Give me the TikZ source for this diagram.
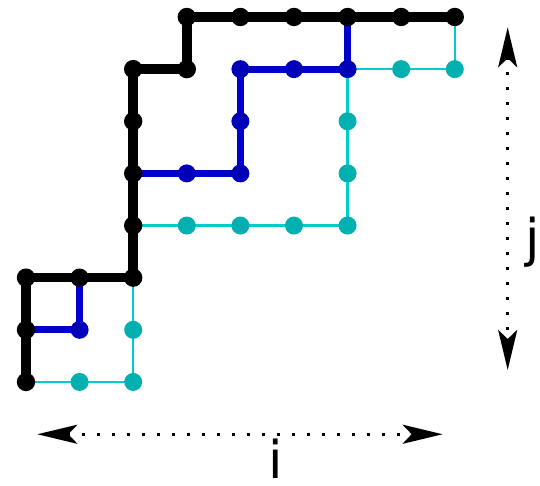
\documentclass[tikz,border=0pt]{standalone}
\usepackage{fontspec}
\usetikzlibrary{arrows.meta}
\setsansfont{DejaVu Sans}
\definecolor{pathblue}{RGB}{0,0,204}
\definecolor{dotblue}{RGB}{0,0,185}
\definecolor{pathcyan}{RGB}{0,204,204}
\definecolor{dotcyan}{RGB}{0,176,176}
\begin{document}
\begin{tikzpicture}[x=26.8pt,y=26.07pt,
    blackpath/.style={line width=4.8pt,black},
    bluepath/.style={line width=3.6pt,pathblue},
    cyanpath/.style={line width=1.25pt,pathcyan},
    blackdot/.style={circle,fill=black,inner sep=0pt,minimum size=9.2pt},
    bluedot/.style={circle,fill=dotblue,inner sep=0pt,minimum size=9pt},
    cyandot/.style={circle,fill=dotcyan,inner sep=0pt,minimum size=9pt},
    spanarrow/.style={line width=1.5pt,dash pattern=on 1.5pt off 6pt,
      {Stealth[length=20pt,width=9.5pt,inset=4.5pt]}-{Stealth[length=20pt,width=9.5pt,inset=4.5pt]}},
    letter/.style={font=\sffamily\fontsize{26}{28}\selectfont,inner sep=0pt,anchor=base}]
  \useasboundingbox (-0.485,-1.995) rectangle (9.590,7.326);
  % lattice points
  \foreach \x in {0,...,8}
    \foreach \y in {0,...,7}
      \coordinate (p\x\y) at (\x,\y);
  % the three paths, lowest first
  \draw[cyanpath] (p00) -- (p20) -- (p23) -- (p63) -- (p66) -- (p86) -- (p87);
  \draw[bluepath] (p00) -- (p01) -- (p11) -- (p12) -- (p22) -- (p24) -- (p44) -- (p46) -- (p66) -- (p67) -- (p87);
  \draw[blackpath] (p00) -- (p02) -- (p22) -- (p26) -- (p36) -- (p37) -- (p87);
  % points on the paths
  \foreach \p in {10,20,21,33,43,53,63,64,65,76,86}
    \node[cyandot] (c\p) at (p\p) {};
  \foreach \p in {11,34,44,45,46,56,66}
    \node[bluedot] (b\p) at (p\p) {};
  \foreach \p in {00,01,02,12,22,23,24,25,26,36,37,47,57,67,77,87}
    \node[blackdot] (k\p) at (p\p) {};
  % ranges
  \coordinate (ileft) at (0.211,-1.003);
  \coordinate (iright) at (7.774,-1.003);
  \coordinate (jtop) at (8.987,6.803);
  \coordinate (jbottom) at (8.987,0.230);
  \draw[spanarrow] (ileft) -- (iright);
  \draw[spanarrow] (jtop) -- (jbottom);
  \node[letter] (ilabel) at (4.664,-1.86) {i};
  \node[letter] (jlabel) at (9.45,2.40) {j};
\end{tikzpicture}
\end{document}
